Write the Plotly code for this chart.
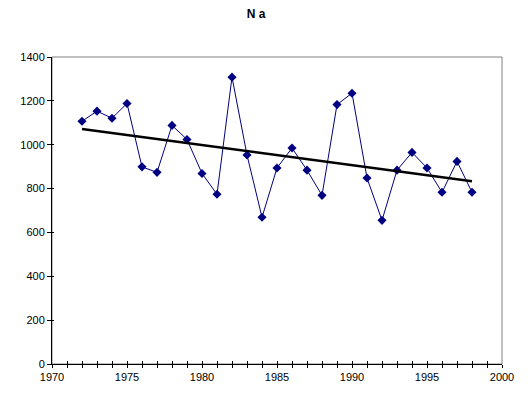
import numpy as np
import plotly.graph_objects as go

years = list(range(1972, 1999))
na_values = [1107, 1153, 1121, 1188, 899, 874, 1088, 1024, 869, 774, 1308, 953, 669,
             894, 985, 884, 769, 1183, 1235, 848, 655, 884, 965, 894, 783, 924, 783]
title_text = "N a"
x_ticks = [1970, 1975, 1980, 1985, 1990, 1995, 2000]
y_ticks = [0, 200, 400, 600, 800, 1000, 1200, 1400]

# linear trendline (as in the spreadsheet)
slope, intercept = np.polyfit(years, na_values, 1)
trend_x = [years[0], years[-1]]
trend_y = [slope * x + intercept for x in trend_x]

font = dict(family="Liberation Sans, Arial, sans-serif", size=11, color="black")

fig = go.Figure()
fig.add_trace(go.Scatter(
    x=years, y=na_values, mode="lines+markers",
    line=dict(color="#000080", width=1),
    marker=dict(symbol="diamond", size=7, color="#000080"),
    showlegend=False, hoverinfo="skip"))
fig.add_trace(go.Scatter(
    x=trend_x, y=trend_y, mode="lines",
    line=dict(color="black", width=2.5),
    showlegend=False, hoverinfo="skip"))

axis_common = dict(showgrid=False, zeroline=False, showline=True, linecolor="black",
                   linewidth=1, tickcolor="black", tickfont=font)

# page body has an 8px margin; compensate so the plot lands where the reference has it
fig.update_layout(
    width=532, height=398,
    margin=dict(l=30, r=38, t=49, b=42),
    paper_bgcolor="white", plot_bgcolor="white",
    font=font,
    title=dict(text="<b>" + title_text + "</b>", x=248 / 532, xanchor="center",
               y=1 - 6 / 398, yanchor="middle",
               font=dict(family="Liberation Sans, Arial, sans-serif", size=12, color="black")),
    xaxis=dict(range=[1970, 2000], tickvals=x_ticks, ticks="outside", ticklen=3,
               minor=dict(dtick=1, tick0=1970, ticks="outside", ticklen=3, tickcolor="black"),
               **axis_common),
    yaxis=dict(range=[0, 1400], tickvals=y_ticks, ticks="outside", ticklen=4,
               **axis_common),
    xaxis2=dict(range=[1970, 2000], overlaying="x", side="bottom", anchor="y",
                tickvals=list(range(1970, 2001)), ticks="inside", ticklen=3,
                tickcolor="black", showticklabels=False, showgrid=False,
                zeroline=False, showline=False),
    yaxis2=dict(range=[0, 1400], overlaying="y", side="left", anchor="x",
                tickvals=y_ticks, ticks="inside", ticklen=2, tickcolor="black",
                showticklabels=False, showgrid=False, zeroline=False, showline=False),
    shapes=[dict(type="rect", xref="paper", yref="paper", x0=0, x1=1, y0=0, y1=1,
                 line=dict(color="#808080", width=1), layer="below")],
)
# invisible trace to activate secondary axes (used only for inward tick marks)
fig.add_trace(go.Scatter(x=[1970], y=[0], xaxis="x2", yaxis="y2", mode="markers",
                         marker=dict(opacity=0), showlegend=False, hoverinfo="skip"))

fig.write_html("out.html")
